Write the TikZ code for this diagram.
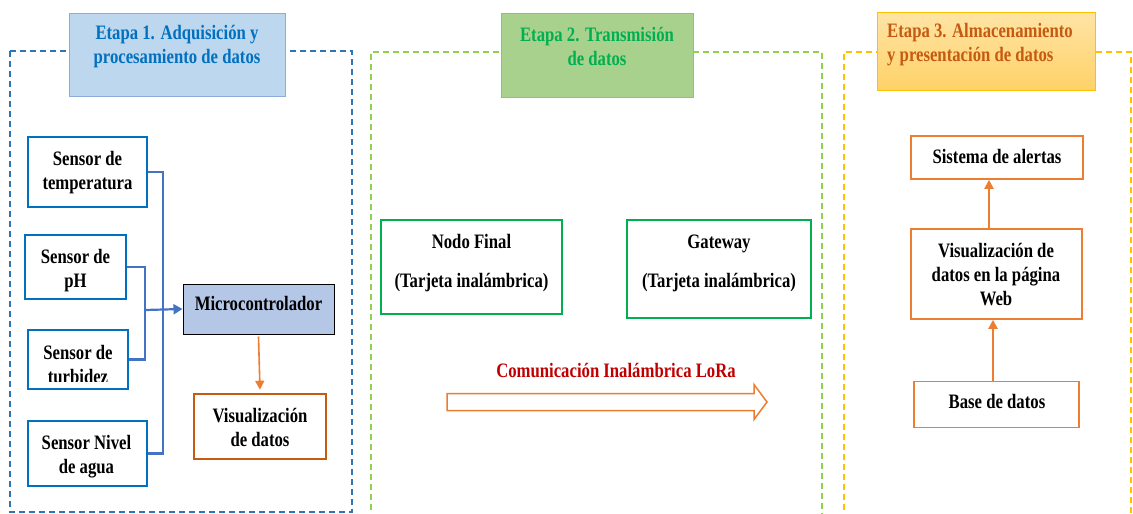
\documentclass[tikz,border=0pt]{standalone}
\usepackage{fontspec}
\setmainfont{Liberation Serif}[FakeStretch=0.815]
\usetikzlibrary{arrows.meta,calc}

\definecolor{stageblue}{RGB}{46,117,182}
\definecolor{titleblue}{RGB}{189,215,238}
\definecolor{titleblueline}{RGB}{143,170,220}
\definecolor{textblue}{RGB}{0,112,192}
\definecolor{busblue}{RGB}{68,114,196}
\definecolor{mcufill}{RGB}{180,199,231}
\definecolor{darkorange}{RGB}{197,90,17}
\definecolor{lightorange}{RGB}{237,125,49}
\definecolor{stagegreen}{RGB}{146,208,80}
\definecolor{titlegreen}{RGB}{169,209,142}
\definecolor{textgreen}{RGB}{0,176,80}
\definecolor{loraRed}{RGB}{192,0,0}
\definecolor{stageyellow}{RGB}{255,192,0}
\definecolor{titletop}{RGB}{255,228,166}
\definecolor{titlebottom}{RGB}{255,210,104}

% Text nodes are placed by the baseline of their last line.
\tikzset{
  txt/.style={font=\fontsize{20.5}{24}\selectfont\bfseries, align=center, inner sep=0pt, anchor=base},
  stageframe/.style={line width=1.3pt, dash pattern=on 6pt off 4pt},
  sensorbox/.style={draw=textblue, line width=2.2pt, inner sep=0pt},
  greenbox/.style={draw=textgreen, line width=2.4pt, inner sep=0pt},
  orangebox/.style={draw=lightorange, line width=1.6pt, inner sep=0pt},
  bus/.style={draw=busblue, line width=2.2pt},
  busarrow/.style={bus, -{Triangle[length=9pt,width=10pt]}},
  oarrow/.style={draw=lightorange, line width=2pt, -{Triangle[length=9pt,width=9pt]}},
}

\begin{document}
\begin{tikzpicture}[x=1pt,y=-1pt]
\useasboundingbox[fill=white] (0,0) rectangle (1133,514);

% ---------------- Etapa 1 ----------------
\draw[stageframe, draw=stageblue] (10,51) rectangle (352,512);
\node[draw=titleblueline, fill=titleblue, line width=1pt, minimum width=216, minimum height=83, inner sep=0pt] (t1) at (177,54.5) {};
\node[txt, text=textblue] (t1-text) at (177,63) {Etapa 1. Adquisición y\\procesamiento de datos};

\node[sensorbox, minimum width=119, minimum height=70] (temp) at (87.5,172) {};
\node[txt] (temp-text) at (87.5,189) {Sensor de\\temperatura};

\node[sensorbox, minimum width=101, minimum height=64] (ph) at (75.5,267) {};
\node[txt] (ph-text) at (75.5,287) {Sensor de\\pH};

\node[sensorbox, minimum width=100, minimum height=59] (turb) at (78,359.5) {};
\begin{scope}
  \clip (29,331) rectangle (127,381);
  \node[txt] (turb-text) at (78,383) {Sensor de\\turbidez};
\end{scope}

\node[sensorbox, minimum width=119, minimum height=65] (nivel) at (87.5,453.5) {};
\node[txt] (nivel-text) at (86.5,473) {Sensor Nivel\\de agua};

\node[draw=black, fill=mcufill, line width=1pt, minimum width=151, minimum height=50, inner sep=0pt] (mcu) at (258.5,309) {};
\node[txt] (mcu-text) at (258.5,310) {Microcontrolador};

\node[draw=darkorange, line width=2.6pt, minimum width=132, minimum height=65, inner sep=0pt] (vis) at (260,426.5) {};
\node[txt] (vis-text) at (260,446) {Visualización\\de datos};

\coordinate (j1) at (163,310);
\coordinate (j2) at (145,310);
\draw[bus] (temp.east) -| (j1) |- (nivel.east);
\draw[bus] (ph.east) -| (j2) |- (turb.east);
\draw[busarrow] (j2) -- (mcu.west);
\draw[oarrow, line width=1.6pt] ([yshift=-2pt]mcu.south) -- ([yshift=3pt]vis.north);

% ---------------- Etapa 2 ----------------
\draw[stageframe, draw=stagegreen, line width=1.1pt] (371,520) -- (371,52) -- (822,52) -- (822,520);
\node[draw=titlegreen!90!black, fill=titlegreen, line width=0.8pt, minimum width=192, minimum height=84, inner sep=0pt] (t2) at (597,55) {};
\node[txt, text=textgreen] (t2-text) at (597,65) {Etapa 2. Transmisión\\de datos};

\node[greenbox, minimum width=181, minimum height=94] (nodo) at (471.5,267) {};
\node[txt] (nodo-text) at (471.5,287) {Nodo Final\\[15pt](Tarjeta inalámbrica)};

\node[greenbox, minimum width=184, minimum height=98] (gw) at (719,269) {};
\node[txt] (gw-text) at (719,287) {Gateway\\[15pt](Tarjeta inalámbrica)};

\node[txt, text=loraRed] (lora-text) at (616,377) {Comunicación Inalámbrica LoRa};
\draw[draw=lightorange, fill=white, line width=1.5pt, line join=miter]
  (447,393.5) -- (754,393.5) -- (754,384.5) -- (767,402) -- (754,419.5) -- (754,410.5) -- (447,410.5) -- cycle;

% ---------------- Etapa 3 ----------------
\draw[stageframe, draw=stageyellow, line width=1.2pt] (844,520) -- (844,52) -- (1131,52) -- (1131,520);
\node[draw=stageyellow, top color=titletop, bottom color=titlebottom, line width=1pt, minimum width=218, minimum height=78, inner sep=0pt] (t3) at (986,51) {};
\node[txt, text=darkorange, align=left, anchor=base west] (t3-text) at (887,61) {Etapa 3. Almacenamiento\\y presentación de datos};

\node[orangebox, minimum width=172, minimum height=43] (alert) at (997,157.5) {};
\node[txt] (alert-text) at (997,163) {Sistema de alertas};

\node[orangebox, minimum width=171, minimum height=90] (web) at (996.5,274) {};
\node[txt] (web-text) at (996,305) {Visualización de\\datos en la página\\Web};

\node[orangebox, minimum width=165, minimum height=46] (db) at (996.5,404.5) {};
\node[txt] (db-text) at (997,408) {Base de datos};

\draw[oarrow] ([xshift=-3.5pt]db.north) -- ([xshift=-3.5pt]db.north |- web.south);
\draw[oarrow] ([xshift=-7.5pt]web.north) -- ([xshift=-7.5pt]web.north |- alert.south);

\end{tikzpicture}
\end{document}
